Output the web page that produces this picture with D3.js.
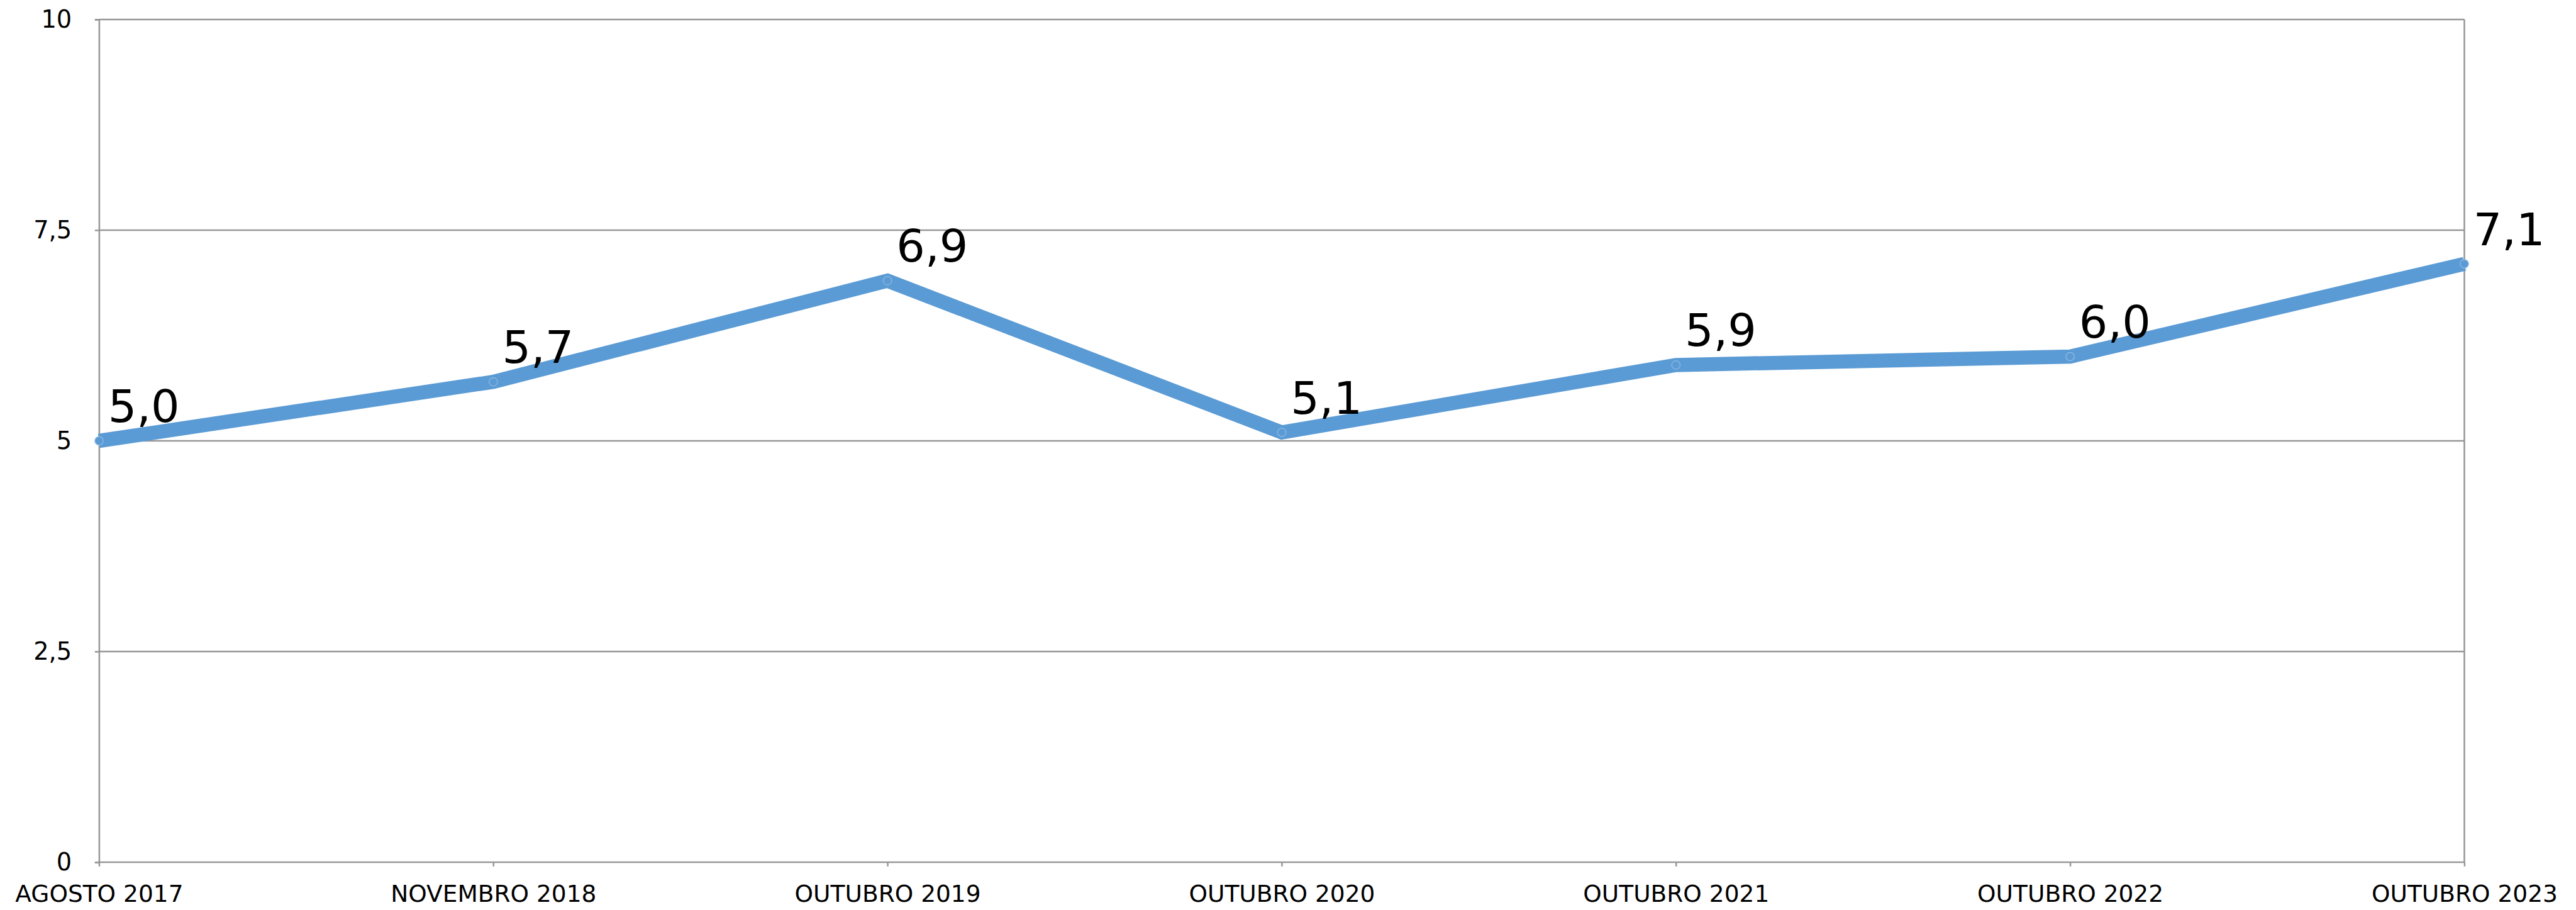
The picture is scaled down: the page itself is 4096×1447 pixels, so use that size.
<!DOCTYPE html>
<html>
<head>
<meta charset="utf-8">
<script src="https://cdn.jsdelivr.net/npm/d3@7"></script>
<style>
  html, body { margin: 0; padding: 0; background: #fff; }
  svg { display: block; }
  text { font-family: "DejaVu Sans", "Noto Sans", sans-serif; fill: #000; }
</style>
</head>
<body>
<svg id="chart" width="4096" height="1447" viewBox="0 0 4915 1736"></svg>
<script>
// data
const categories = ['AGOSTO 2017', 'NOVEMBRO 2018', 'OUTUBRO 2019', 'OUTUBRO 2020', 'OUTUBRO 2021', 'OUTUBRO 2022', 'OUTUBRO 2023'];
const values = [5.0, 5.7, 6.9, 5.1, 5.9, 6.0, 7.1];
const yTicks = [0, 2.5, 5, 7.5, 10];
const yTickLabels = ['0', '2,5', '5', '7,5', '10'];

// drawn in reference units, viewBox scales to the window
const svg = d3.select('#chart');
const margin = { top: 37, left: 189, right: 213, bottom: 91 };
const width = 4915 - margin.left - margin.right;
const height = 1736 - margin.top - margin.bottom;

const g = svg.append('g').attr('transform', `translate(${margin.left}, ${margin.top})`);

const x = d3.scalePoint().domain(categories).range([0, width]);
const y = d3.scaleLinear().domain([0, 10]).range([height, 0]);
const gridColor = '#969696';
const lineColor = '#5b9bd5';

// y axis with gridlines
const yAxis = d3.axisLeft(y)
    .tickValues(yTicks)
    .tickFormat((d, i) => yTickLabels[i])
    .tickSize(8)
    .tickPadding(44);

g.append('g')
    .attr('class', 'axis axis--y')
    .call(yAxis)
    .call(ax => {
        ax.select('.domain').attr('stroke', gridColor).attr('stroke-width', 3);
        ax.selectAll('.tick line').attr('stroke', gridColor).attr('stroke-width', 3);
        ax.selectAll('.tick text').style('font-size', '46px');
    });

g.append('g')
    .attr('class', 'grid')
    .selectAll('line')
    .data(yTicks)
    .join('line')
    .attr('x1', 0)
    .attr('x2', width)
    .attr('y1', d => y(d))
    .attr('y2', d => y(d))
    .attr('stroke', gridColor)
    .attr('stroke-width', 3);

// right border
g.append('line')
    .attr('x1', width).attr('x2', width)
    .attr('y1', 0).attr('y2', height)
    .attr('stroke', gridColor)
    .attr('stroke-width', 3);

// x axis
const xAxis = d3.axisBottom(x).tickSize(8).tickPadding(36);
g.append('g')
    .attr('transform', `translate(0, ${height})`)
    .call(xAxis)
    .call(ax => {
        ax.select('.domain').remove();
        ax.selectAll('.tick line').attr('stroke', gridColor).attr('stroke-width', 3);
        ax.selectAll('.tick text').style('font-size', '45px');
    });

// line
const line = d3.line()
    .x((d, i) => x(categories[i]))
    .y(d => y(d));

g.append('path')
    .datum(values)
    .attr('d', line)
    .attr('fill', 'none')
    .attr('stroke', lineColor)
    .attr('stroke-width', 27)
    .attr('stroke-linejoin', 'miter');

g.selectAll('.marker')
    .data(values)
    .join('circle')
    .attr('class', 'marker')
    .attr('cx', (d, i) => x(categories[i]))
    .attr('cy', d => y(d))
    .attr('r', 8)
    .attr('fill', lineColor)
    .attr('stroke', '#8fb9e3')
    .attr('stroke-width', 1.5);

// data labels
g.selectAll('.label')
    .data(values)
    .join('text')
    .attr('class', 'label')
    .attr('x', (d, i) => x(categories[i]) + 17)
    .attr('y', d => y(d) - 36)
    .style('font-size', '86px')
    .text(d => d3.format('.1f')(d).replace('.', ','));
</script>
</body>
</html>
